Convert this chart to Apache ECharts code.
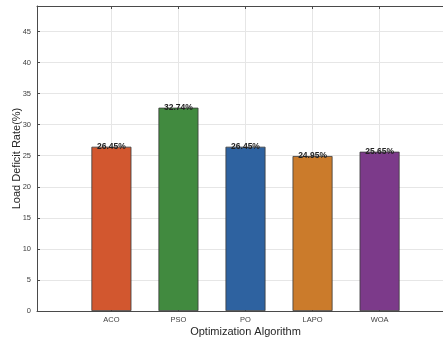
<!DOCTYPE html>
<html>
<head>
<meta charset="utf-8">
<script src="https://cdn.jsdelivr.net/npm/echarts@6/dist/echarts.min.js"></script>
<style>html,body{margin:0;padding:0;background:#fff;}#c{width:443px;height:343px;}</style>
</head>
<body>
<div id="c"></div>
<script>
var categories = ['ACO', 'PSO', 'PO', 'LAPO', 'WOA'];
var positions = [1, 2, 3, 4, 5];
var values = [26.45, 32.74, 26.45, 24.95, 25.65];
var colors = ['#D2572F', '#418A3F', '#2E62A0', '#CB7B2B', '#7C3A8A'];
var yTicks = [0, 5, 10, 15, 20, 25, 30, 35, 40, 45];

var chart = echarts.init(document.getElementById('c'), null, {renderer: 'canvas'});
var font = 'Liberation Sans, Arial, Helvetica, sans-serif';
var data = values.map(function (v, i) {
  return {value: [positions[i], v], itemStyle: {color: colors[i]}};
});
chart.setOption({
  animation: false,
  backgroundColor: '#ffffff',
  grid: {left: 37, top: 6, width: 417, height: 305, containLabel: false, outerBoundsMode: 'none'},
  xAxis: [{
    type: 'value', min: -0.11, max: 6.11, position: 'bottom',
    name: 'Optimization Algorithm', nameLocation: 'middle', nameGap: 15, nameMoveOverlap: false,
    nameTextStyle: {fontFamily: font, fontSize: 11, color: '#262626'},
    axisLine: {show: true, onZero: false, lineStyle: {color: '#4a4a4a', width: 1}},
    axisTick: {show: true, inside: true, length: 3, customValues: positions, lineStyle: {color: '#4a4a4a'}},
    axisLabel: {show: true, customValues: positions, fontFamily: font, fontSize: 7.5, color: '#404040', margin: 5,
      formatter: function (v) { var i = positions.indexOf(Math.round(v)); return i >= 0 ? categories[i] : ''; }},
    splitLine: {show: true, lineStyle: {color: '#e6e6e6', width: 1}}
  }, {
    type: 'value', min: -0.11, max: 6.11, position: 'top',
    axisLine: {show: true, onZero: false, lineStyle: {color: '#4a4a4a', width: 1}},
    axisTick: {show: true, inside: true, length: 3, customValues: positions, lineStyle: {color: '#4a4a4a'}},
    axisLabel: {show: false},
    splitLine: {show: false}
  }],
  yAxis: {
    type: 'value', min: 0, max: 49.11, interval: 5,
    name: 'Load Deficit Rate(%)', nameLocation: 'middle', nameGap: 15, nameMoveOverlap: false,
    nameTextStyle: {fontFamily: font, fontSize: 11, color: '#262626'},
    axisLine: {show: true, onZero: false, lineStyle: {color: '#4a4a4a', width: 1}},
    axisTick: {show: true, inside: true, length: 3, lineStyle: {color: '#4a4a4a'}},
    axisLabel: {fontFamily: font, fontSize: 7.5, color: '#404040', margin: 6, showMaxLabel: false,
      formatter: function (v) { return yTicks.indexOf(v) >= 0 ? String(v) : ''; }},
    splitLine: {show: true, lineStyle: {color: '#e6e6e6', width: 1}}
  },
  series: [{
    type: 'bar', xAxisIndex: 0, data: data, barWidth: 40,
    itemStyle: {borderColor: '#3a3a3a', borderWidth: 0.8},
    label: {show: true, position: 'top', distance: -4, fontFamily: font, fontSize: 8.5, fontWeight: 'bold', color: '#222222',
      formatter: function (p) { return p.value[1].toFixed(2) + '%'; }}
  }]
});
</script>
</body>
</html>
